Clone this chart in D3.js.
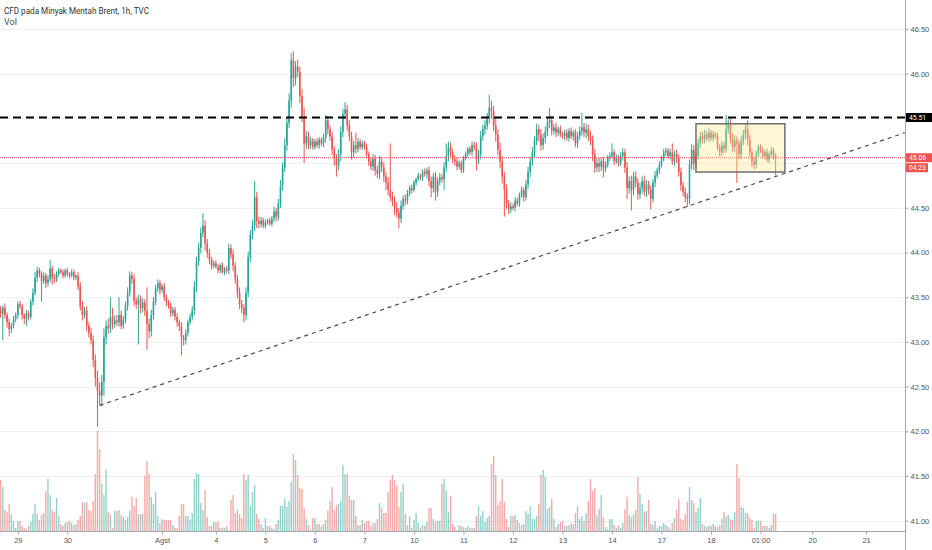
<!DOCTYPE html>
<html>
<head>
<meta charset="utf-8">
<script src="https://cdn.jsdelivr.net/npm/d3@7"></script>
<style>
  body { margin: 0; background: #fff; }
  svg { display: block; font-family: Roboto, "Noto Sans", sans-serif; }
</style>
</head>
<body>
<svg id="chart" width="932" height="550"></svg>
<script>
// hourly bars, Jul 28 (last 8h) .. Aug 19 (first 8h), 23 bars per trading day
const firstOpen = 43.36;
const close = [
  43.32, 43.38, 43.30, 43.22, 43.14, 43.18, 43.25, 43.30, // Jul 28
  43.42, 43.40, 43.30, 43.26, 43.32, 43.28, 43.45, 43.55, 43.72, 43.80, 43.76, 43.68, 43.74, 43.66, 43.70, 43.82, 43.72, 43.70, 43.76, 43.80, 43.78, 43.74, 43.80, // Jul 29
  43.76, 43.74, 43.78, 43.72, 43.74, 43.62, 43.40, 43.30, 43.35, 43.18, 43.10, 43.02, 42.80, 42.60, 42.45, 42.40, 42.55, 43.05, 43.18, 43.15, 43.28, 43.20, 43.24, // Jul 30
  43.22, 43.30, 43.18, 43.25, 43.40, 43.55, 43.74, 43.70, 43.46, 43.42, 43.48, 43.38, 43.44, 43.35, 43.20, 43.12, 43.30, 43.45, 43.60, 43.66, 43.58, 43.62, 43.50, // Jul 31
  43.44, 43.40, 43.32, 43.36, 43.28, 43.22, 43.18, 43.05, 43.02, 43.10, 43.22, 43.28, 43.35, 43.62, 43.90, 44.05, 44.22, 44.30, 44.10, 44.00, 43.92, 43.85, 43.88, // Aug 3
  43.84, 43.80, 43.86, 43.78, 43.82, 43.80, 44.05, 43.98, 43.85, 43.70, 43.55, 43.42, 43.38, 43.30, 43.55, 43.95, 44.20, 44.30, 44.62, 44.35, 44.32, 44.36, 44.30, // Aug 4
  44.34, 44.36, 44.32, 44.38, 44.46, 44.40, 44.55, 44.75, 44.95, 45.20, 45.45, 45.70, 46.15, 45.95, 46.08, 46.02, 45.75, 45.52, 45.22, 45.30, 45.20, 45.25, 45.18, // Aug 5
  45.24, 45.20, 45.26, 45.22, 45.28, 45.48, 45.38, 45.30, 45.15, 45.05, 44.98, 45.10, 45.35, 45.55, 45.60, 45.42, 45.30, 45.12, 45.20, 45.16, 45.24, 45.18, 45.22, // Aug 6
  45.18, 45.10, 45.02, 44.96, 45.05, 44.92, 44.88, 45.02, 44.95, 44.85, 44.78, 44.70, 44.62, 44.58, 44.50, 44.45, 44.38, 44.52, 44.60, 44.58, 44.66, 44.72, 44.70, // Aug 7
  44.78, 44.82, 44.86, 44.84, 44.90, 44.88, 44.92, 44.80, 44.72, 44.85, 44.68, 44.80, 44.84, 44.82, 44.95, 45.08, 45.18, 45.12, 45.04, 45.02, 44.96, 45.00, 44.92, // Aug 10
  45.05, 45.10, 45.16, 45.12, 45.20, 45.18, 45.04, 45.10, 45.30, 45.38, 45.42, 45.50, 45.62, 45.58, 45.42, 45.32, 45.15, 45.02, 44.85, 44.70, 44.55, 44.48, 44.52, // Aug 11
  44.50, 44.58, 44.55, 44.64, 44.70, 44.62, 44.76, 44.90, 45.02, 45.12, 45.25, 45.38, 45.32, 45.20, 45.28, 45.35, 45.45, 45.48, 45.36, 45.40, 45.34, 45.38, 45.32, // Aug 12
  45.30, 45.34, 45.28, 45.36, 45.30, 45.34, 45.22, 45.30, 45.36, 45.40, 45.34, 45.38, 45.30, 45.26, 45.10, 44.95, 45.00, 44.96, 45.02, 44.94, 44.98, 45.06, 45.08, // Aug 13
  45.12, 45.02, 45.06, 45.00, 45.08, 45.12, 44.95, 44.72, 44.80, 44.70, 44.85, 44.78, 44.65, 44.72, 44.80, 44.68, 44.76, 44.70, 44.60, 44.78, 44.86, 44.92, 44.98, // Aug 14
  45.05, 45.12, 45.14, 45.08, 45.12, 45.02, 45.10, 45.06, 44.90, 44.75, 44.68, 44.62, 44.60, 44.98, 45.15, 45.00, 45.08, 45.22, 45.30, 45.26, 45.32, 45.28, 45.34, // Aug 17
  45.28, 45.32, 45.30, 45.18, 45.12, 45.20, 45.16, 45.38, 45.44, 45.28, 45.18, 45.25, 45.22, 45.10, 45.24, 45.32, 45.38, 45.26, 45.12, 45.02, 44.98, 45.10, 45.18, // Aug 18
  45.14, 45.08, 45.12, 45.04, 45.10, 45.14, 45.08, 45.06 // Aug 19
];

// wick lengths above / below the body, in cents
const upperWick = [
  4, 3, 5, 3, 4, 3, 4, 3,
  3, 4, 3, 2, 4, 3, 3, 5, 6, 4, 3, 3, 4, 3, 5, 10, 3, 4, 3, 3, 2, 3, 2,
  3, 2, 3, 3, 2, 4, 5, 6, 4, 5, 4, 6, 5, 6, 8, 10, 8, 10, 6, 8, 22, 10, 6,
  6, 20, 5, 4, 5, 6, 5, 4, 6, 4, 5, 4, 5, 4, 26, 6, 6, 5, 4, 4, 3, 3, 4,
  3, 3, 4, 3, 3, 4, 3, 4, 3, 4, 3, 4, 5, 6, 5, 6, 6, 14, 6, 5, 4, 3, 3,
  3, 3, 2, 3, 2, 3, 5, 4, 5, 4, 5, 6, 5, 4, 6, 6, 5, 6, 18, 6, 5, 4, 3,
  3, 2, 3, 3, 5, 4, 5, 6, 6, 8, 6, 8, 8, 10, 6, 8, 6, 8, 10, 6, 5, 4, 3,
  3, 4, 3, 3, 5, 6, 5, 4, 5, 4, 5, 6, 6, 6, 8, 5, 6, 5, 5, 14, 4, 3, 3,
  3, 4, 3, 4, 5, 4, 5, 6, 5, 6, 5, 6, 52, 6, 5, 6, 5, 6, 4, 5, 4, 3, 4,
  3, 2, 3, 2, 3, 4, 3, 4, 5, 4, 5, 4, 5, 4, 6, 14, 6, 5, 4, 5, 4, 3, 3,
  3, 3, 2, 3, 4, 4, 5, 5, 6, 5, 6, 6, 14, 8, 6, 8, 6, 8, 6, 5, 6, 4, 4,
  3, 4, 3, 3, 4, 3, 5, 6, 5, 6, 5, 6, 5, 6, 5, 6, 6, 14, 5, 4, 5, 3, 4,
  3, 3, 4, 3, 4, 3, 4, 5, 5, 16, 5, 6, 5, 6, 5, 6, 5, 6, 4, 5, 4, 3, 4,
  10, 3, 4, 3, 4, 5, 4, 6, 5, 6, 5, 6, 5, 6, 5, 6, 5, 4, 5, 4, 5, 3, 4,
  3, 4, 3, 3, 4, 10, 4, 5, 4, 5, 4, 5, 4, 6, 6, 5, 4, 5, 5, 5, 5, 4, 5,
  3, 4, 3, 4, 3, 5, 4, 16, 5, 6, 5, 6, 5, 4, 6, 5, 6, 10, 5, 4, 5, 4, 3,
  3, 4, 3, 4, 3, 4, 3, 3
];
const lowerWick = [
  5, 30, 4, 6, 8, 4, 3, 3,
  4, 3, 5, 6, 8, 4, 3, 4, 3, 5, 4, 23, 3, 6, 4, 3, 8, 4, 3, 3, 2, 3, 2,
  3, 3, 2, 3, 3, 4, 5, 6, 4, 6, 5, 5, 8, 10, 40, 11, 12, 15, 8, 6, 5, 6, 4,
  4, 5, 4, 3, 4, 5, 4, 5, 6, 5, 45, 6, 5, 6, 29, 8, 6, 5, 4, 4, 5, 3, 4,
  4, 3, 4, 3, 4, 5, 6, 20, 6, 5, 4, 3, 4, 5, 6, 5, 6, 5, 8, 6, 5, 4, 3,
  2, 3, 3, 2, 3, 3, 4, 5, 6, 5, 6, 5, 6, 8, 6, 5, 6, 5, 6, 8, 5, 4, 3,
  3, 3, 2, 3, 4, 5, 4, 5, 6, 5, 6, 6, 8, 10, 8, 6, 8, 6, 22, 6, 5, 4, 3,
  3, 3, 4, 3, 4, 5, 6, 5, 6, 8, 13, 6, 8, 6, 5, 6, 5, 8, 6, 5, 4, 3, 3,
  3, 4, 5, 4, 5, 6, 5, 6, 5, 6, 8, 6, 5, 6, 8, 6, 11, 5, 4, 5, 4, 3, 4,
  2, 3, 2, 3, 4, 3, 5, 6, 10, 5, 10, 6, 5, 4, 12, 5, 6, 5, 4, 5, 4, 3, 3,
  3, 2, 3, 3, 4, 4, 12, 5, 6, 5, 6, 5, 6, 8, 6, 8, 6, 8, 8, 30, 6, 5, 4,
  3, 4, 3, 4, 3, 5, 4, 5, 6, 5, 6, 5, 8, 6, 5, 6, 5, 6, 5, 4, 5, 4, 3,
  3, 4, 3, 4, 3, 5, 4, 5, 4, 5, 5, 6, 5, 6, 8, 6, 5, 6, 5, 10, 4, 3, 4,
  3, 4, 3, 4, 3, 5, 6, 12, 6, 23, 6, 5, 6, 5, 6, 5, 6, 5, 12, 4, 5, 3, 4,
  3, 3, 4, 3, 4, 4, 5, 6, 5, 6, 5, 6, 9, 6, 5, 8, 5, 4, 5, 4, 4, 3, 4,
  3, 4, 3, 4, 5, 4, 5, 4, 5, 6, 5, 6, 44, 6, 5, 4, 5, 6, 5, 6, 5, 4, 3,
  3, 3, 4, 3, 4, 3, 4, 20
];

const volume = [
  51, 44, 21, 19, 27, 17, 10, 3,
  10, 10, 5, 3, 2, 5, 9, 17, 27, 17, 11, 16, 18, 40, 52, 36, 21, 19, 33, 15, 7, 5, 8,
  9, 10, 8, 6, 7, 11, 15, 29, 28, 29, 21, 20, 30, 57, 100, 82, 47, 36, 61, 19, 16, 3, 20,
  20, 21, 16, 14, 11, 14, 20, 34, 25, 33, 17, 17, 17, 55, 70, 57, 34, 27, 39, 15, 8, 12, 11,
  11, 11, 11, 6, 3, 3, 15, 27, 27, 15, 15, 11, 18, 52, 58, 57, 28, 21, 41, 14, 5, 5, 9,
  9, 9, 3, 3, 3, 5, 1, 31, 36, 18, 21, 17, 13, 57, 51, 56, 25, 39, 46, 17, 12, 7, 3,
  13, 5, 5, 3, 2, 7, 11, 25, 25, 32, 24, 30, 49, 77, 71, 56, 43, 42, 23, 12, 6, 2, 13,
  13, 7, 7, 5, 7, 11, 20, 30, 44, 21, 26, 27, 30, 66, 57, 57, 35, 31, 31, 15, 6, 6, 11,
  8, 10, 10, 5, 8, 8, 12, 28, 23, 18, 18, 39, 51, 56, 51, 46, 24, 39, 47, 17, 6, 15, 3,
  11, 18, 8, 3, 6, 5, 9, 23, 23, 12, 9, 10, 10, 47, 52, 40, 19, 35, 7, 4, 1, 6, 5,
  4, 3, 5, 3, 3, 3, 15, 25, 15, 20, 9, 13, 15, 67, 75, 56, 26, 30, 52, 29, 12, 4, 15,
  15, 16, 11, 8, 6, 7, 20, 17, 25, 12, 12, 15, 27, 56, 61, 54, 22, 24, 32, 12, 4, 7, 9,
  10, 5, 5, 6, 8, 7, 18, 25, 12, 15, 10, 18, 30, 52, 40, 43, 16, 22, 36, 14, 4, 2, 12,
  12, 6, 3, 5, 3, 8, 22, 34, 16, 14, 17, 21, 54, 37, 27, 19, 20, 31, 7, 6, 10, 3, 5,
  5, 8, 6, 4, 2, 8, 13, 21, 32, 12, 11, 17, 29, 44, 31, 28, 19, 23, 33, 7, 5, 4, 5,
  5, 7, 5, 4, 6, 12, 19, 14, 16, 12, 11, 19, 67, 53, 24, 23, 18, 18, 13, 11, 3, 10, 10,
  10, 5, 5, 5, 3, 6, 17, 17
];

// time axis (bar index of each label) and price axis
const tickLabels = ["29", "30", "Agst", "4", "5", "6", "7", "10", "11", "12", "13", "14", "17", "18", "01:00", "20", "21"];
const tickBars   = [8, 31, 75, 100, 123, 146, 169, 192, 215, 238, 261, 284, 307, 330, 353, 377, 402];
const priceTicks = [41.0, 41.5, 42.0, 42.5, 43.0, 43.5, 44.0, 44.5, 45.0, 45.5, 46.0, 46.5];

// drawings
const resistance = 45.51;
const lastPrice = 45.06;
const countdown = "04:23";
const trendPoints = [{ bar: 46, price: 42.29 }, { bar: 360, price: 44.85 }];
const boxZone = { barFrom: 323, barTo: 364.3, top: 45.44, bottom: 44.90 };

const UP = "#26a69a", DOWN = "#ef5350";

const svg = d3.select("#chart");
const W = 932, H = 550;
const plotRight = 905, plotBottom = 531;

const x = d3.scaleLinear().domain([0, 420]).range([0.6, 904.8]);
const y = d3.scaleLinear().domain([41, 46.5]).range([520.7, 29]);
const yVol = d3.scaleLinear().domain([0, 100]).range([plotBottom, plotBottom - 100]);

const bars = close.map((c, i) => {
  const o = i === 0 ? firstOpen : close[i - 1];
  return {
    i, o, c,
    h: Math.max(o, c) + upperWick[i] / 100,
    l: Math.min(o, c) - lowerWick[i] / 100,
    v: volume[i],
    up: c >= o
  };
});

svg.append("rect").attr("width", W).attr("height", H).attr("fill", "#fff");

svg.append("clipPath").attr("id", "plot")
  .append("rect").attr("width", plotRight).attr("height", plotBottom);

const plot = svg.append("g").attr("clip-path", "url(#plot)");

// grid
plot.selectAll("line.grid")
  .data(priceTicks)
  .join("line")
  .attr("class", "grid")
  .attr("x1", 0).attr("x2", plotRight)
  .attr("y1", d => Math.round(y(d)) + 0.5).attr("y2", d => Math.round(y(d)) + 0.5)
  .attr("stroke", "#eef0f4").attr("stroke-width", 1);

// volume
plot.selectAll("rect.vol")
  .data(bars)
  .join("rect")
  .attr("class", "vol")
  .attr("x", d => x(d.i) - 0.7)
  .attr("width", 1.4)
  .attr("y", d => yVol(d.v))
  .attr("height", d => plotBottom - yVol(d.v))
  .attr("fill", d => d.up ? UP : DOWN)
  .attr("fill-opacity", 0.5);

// candles
plot.selectAll("line.wick")
  .data(bars)
  .join("line")
  .attr("class", "wick")
  .attr("x1", d => x(d.i)).attr("x2", d => x(d.i))
  .attr("y1", d => y(d.h)).attr("y2", d => y(d.l))
  .attr("stroke", d => d.up ? UP : DOWN)
  .attr("stroke-width", 1);

plot.selectAll("rect.body")
  .data(bars)
  .join("rect")
  .attr("class", "body")
  .attr("x", d => x(d.i) - 0.8)
  .attr("width", 1.6)
  .attr("y", d => y(Math.max(d.o, d.c)))
  .attr("height", d => Math.max(1, Math.abs(y(d.o) - y(d.c))))
  .attr("fill", d => d.up ? UP : DOWN);

// last price line
plot.append("line")
  .attr("x1", 0).attr("x2", plotRight)
  .attr("y1", y(lastPrice)).attr("y2", y(lastPrice))
  .attr("stroke", DOWN).attr("stroke-width", 1)
  .attr("stroke-dasharray", "1,1");

// resistance
plot.append("line")
  .attr("x1", 0).attr("x2", plotRight)
  .attr("y1", y(resistance)).attr("y2", y(resistance))
  .attr("stroke", "#000").attr("stroke-width", 2)
  .attr("stroke-dasharray", "8,5");

// rising trend line, extended to the right edge
const slope = (trendPoints[1].price - trendPoints[0].price) / (trendPoints[1].bar - trendPoints[0].bar);
const trendEndBar = x.domain()[1];
plot.append("line")
  .attr("x1", x(trendPoints[0].bar)).attr("y1", y(trendPoints[0].price))
  .attr("x2", x(trendEndBar))
  .attr("y2", y(trendPoints[0].price + slope * (trendEndBar - trendPoints[0].bar)))
  .attr("stroke", "#4a4a4a").attr("stroke-width", 1.2)
  .attr("stroke-dasharray", "4,4");

// consolidation box
plot.append("rect")
  .attr("x", x(boxZone.barFrom))
  .attr("y", y(boxZone.top))
  .attr("width", x(boxZone.barTo) - x(boxZone.barFrom))
  .attr("height", y(boxZone.bottom) - y(boxZone.top))
  .attr("fill", "#ffe98a").attr("fill-opacity", 0.35)
  .attr("stroke", "#6f6f6f").attr("stroke-width", 1.5);

// axes
const axisColor = "#a3a6af";
svg.append("line")
  .attr("x1", plotRight + 0.5).attr("x2", plotRight + 0.5)
  .attr("y1", 0).attr("y2", H)
  .attr("stroke", axisColor);
svg.append("line")
  .attr("x1", 0).attr("x2", plotRight)
  .attr("y1", plotBottom + 0.5).attr("y2", plotBottom + 0.5)
  .attr("stroke", axisColor);

// axis labels hidden behind the price tags are skipped, as on the platform
const tagYs = [y(resistance), y(lastPrice), y(lastPrice) + 10];
const shownTicks = priceTicks.filter(p => tagYs.every(t => Math.abs(y(p) - t) > 9));

const yAxisG = svg.append("g")
  .attr("transform", `translate(${plotRight + 0.5},0)`)
  .call(d3.axisRight(y).tickValues(shownTicks).tickFormat(d3.format(".2f")).tickSize(3).tickPadding(2));
yAxisG.select(".domain").remove();
yAxisG.selectAll("line").attr("stroke", axisColor);
yAxisG.selectAll("text").attr("fill", "#50535e").style("font-size", "7.5px");

const xAxisG = svg.append("g")
  .attr("transform", `translate(0,${plotBottom + 0.5})`)
  .call(d3.axisBottom(x).tickValues(tickBars).tickFormat((d, i) => tickLabels[i]).tickSize(3).tickPadding(3));
xAxisG.select(".domain").remove();
xAxisG.selectAll("line").attr("stroke", axisColor);
xAxisG.selectAll("text").attr("fill", "#50535e").style("font-size", "7.5px");

// price tags on the axis
function tag(price, text, bg, dy, w) {
  const cy = y(price) + (dy || 0);
  svg.append("rect")
    .attr("x", plotRight + 1).attr("y", cy - 4.5)
    .attr("width", w || 26).attr("height", 9)
    .attr("fill", bg);
  svg.append("text")
    .attr("x", plotRight + 4).attr("y", cy + 2.4)
    .attr("fill", "#fff")
    .style("font-size", "6.8px")
    .text(text);
}
tag(resistance, resistance.toFixed(2), "#000");
tag(lastPrice, lastPrice.toFixed(2), DOWN);
tag(lastPrice, countdown, DOWN, 10, 22);

// legend
svg.append("text")
  .attr("x", 4).attr("y", 14)
  .attr("fill", "#333")
  .attr("textLength", 145).attr("lengthAdjust", "spacingAndGlyphs")
  .style("font-size", "9.5px")
  .text("CFD pada Minyak Mentah Brent, 1h, TVC");
svg.append("text")
  .attr("x", 4).attr("y", 25)
  .attr("fill", "#555")
  .attr("textLength", 13).attr("lengthAdjust", "spacingAndGlyphs")
  .style("font-size", "9.5px")
  .text("Vol");
</script>
</body>
</html>
